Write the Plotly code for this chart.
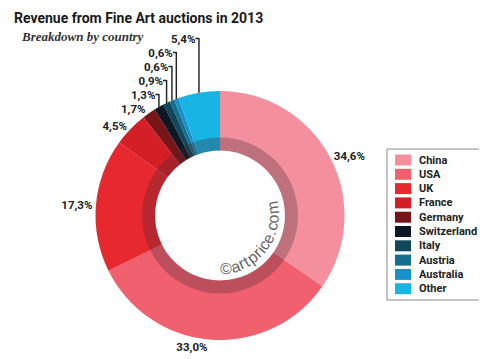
import math
import plotly.graph_objects as go

countries = ["China", "USA", "UK", "France", "Germany", "Switzerland",
             "Italy", "Austria", "Australia", "Other"]
shares = [34.6, 33.0, 17.3, 4.5, 1.7, 1.3, 0.9, 0.6, 0.6, 5.4]
colors = ["#f4909e", "#f0606e", "#e8282f", "#d41f27", "#771518", "#0c1826",
          "#0f475b", "#126f8d", "#1691cd", "#18b4e4"]
labels_text = [f"{v:.1f}".replace(".", ",") + "%" for v in shares]

W, H = 487, 359
CX, CY, R = 212, 207.5, 124.5
HOLE_R, BAND_R = 65, 78

def px(x):
    return x / W

def py(y):
    return 1 - y / H

NARROW = "Roboto, Liberation Sans, Arial, sans-serif"

fig = go.Figure()
fig.add_trace(go.Pie(
    labels=countries, values=shares, text=labels_text,
    texttemplate="%{text}", textposition="outside",
    textfont=dict(family=NARROW, size=11.5, color="#222222", weight="bold"),
    marker=dict(colors=colors, line=dict(width=0)),
    sort=False, direction="clockwise", rotation=0,
    hole=HOLE_R / R, showlegend=False,
    domain=dict(x=[px(CX - R), px(CX + R)], y=[py(CY + R), py(CY - R)]),
))
# inner shadow band
fig.add_trace(go.Pie(
    values=[1], labels=["band"], textinfo="none", hoverinfo="skip",
    marker=dict(colors=["rgba(70,40,50,0.30)"], line=dict(width=0)),
    hole=HOLE_R / BAND_R, showlegend=False, sort=False,
    domain=dict(x=[px(CX - BAND_R), px(CX + BAND_R)],
                y=[py(CY + BAND_R), py(CY - BAND_R)]),
))

shapes = []
annotations = []

# legend box
LX0, LX1, LY0, LY1 = 379, 476, 141, 292
shapes.append(dict(type="rect", xref="paper", yref="paper",
                   x0=px(LX0), x1=px(LX1), y0=py(LY1), y1=py(LY0),
                   line=dict(color="#8a8a8a", width=1), fillcolor="white"))
for i, (name, col) in enumerate(zip(countries, colors)):
    yc = 152 + i * 14.3
    shapes.append(dict(type="rect", xref="paper", yref="paper",
                       x0=px(387), x1=px(403), y0=py(yc + 5.5), y1=py(yc - 5.5),
                       line=dict(width=0), fillcolor=col))
    annotations.append(dict(text=name, xref="paper", yref="paper",
                            x=px(409), y=py(yc), xanchor="left", yanchor="middle",
                            showarrow=False,
                            font=dict(family=NARROW, size=11, color="#222222",
                                      weight="bold")))

# titles
annotations.append(dict(text="Revenue from Fine Art auctions in 2013",
                        xref="paper", yref="paper", x=px(4), y=py(10),
                        xanchor="left", yanchor="middle", showarrow=False,
                        font=dict(family=NARROW, size=14, color="#1a1a1a",
                                  weight="bold")))
annotations.append(dict(text="<b><i>Breakdown by country</i></b>",
                        xref="paper", yref="paper", x=px(11), y=py(28),
                        xanchor="left", yanchor="middle", showarrow=False,
                        font=dict(family="Liberation Serif, DejaVu Serif, serif",
                                  size=13, color="#333333")))

# curved watermark
wm = "©artprice.com"
widths = {"©": 12, "a": 8, "r": 5.5, "t": 5, "p": 8.5, "i": 4, "c": 7.5,
          "e": 8, ".": 4.5, "o": 8.5, "m": 12.5}
rr = 53
start_deg = 90
pos = 0
for ch in wm:
    w = widths[ch]
    mid = pos + w / 2
    theta = start_deg - math.degrees(mid / rr)
    t = math.radians(theta)
    xx = CX + rr * math.cos(t)
    yy = CY + rr * math.sin(t)
    annotations.append(dict(text=ch, xref="paper", yref="paper",
                            x=px(xx), y=py(yy), xanchor="center", yanchor="middle",
                            showarrow=False, textangle=theta - 90,
                            font=dict(family="Liberation Sans, Arial, sans-serif",
                                      size=16, color="#666666")))
    pos += w

fig.update_layout(
    width=W, height=H, margin=dict(l=0, r=0, t=0, b=0),
    paper_bgcolor="white", plot_bgcolor="white",
    shapes=shapes, annotations=annotations,
)
fig.write_html("out.html")
